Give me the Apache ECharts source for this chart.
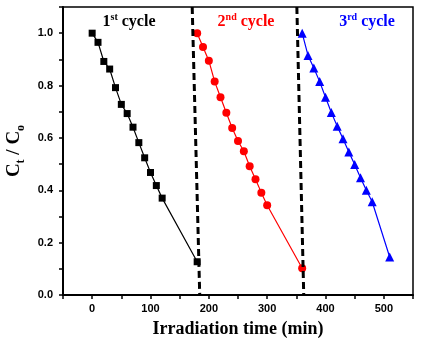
<!DOCTYPE html>
<html>
<head>
<meta charset="utf-8">
<script src="https://cdn.jsdelivr.net/npm/echarts@6/dist/echarts.min.js"></script>
<style>
  html, body { margin: 0; padding: 0; background: #fff; }
  #chart { width: 430px; height: 344px; }
</style>
</head>
<body>
<div id="chart"></div>
<script>
// Irradiation time (min) and normalized concentration Ct/C0 for three cycles
const time1 = [0, 10, 20, 30, 40, 50, 60, 70, 80, 90, 100, 110, 120, 180];
const ratio1 = [1.0, 0.965, 0.892, 0.863, 0.792, 0.728, 0.693, 0.641, 0.582, 0.524, 0.468, 0.418, 0.370, 0.127];

const time2 = [180, 190, 200, 210, 220, 230, 240, 250, 260, 270, 280, 290, 300, 360];
const ratio2 = [1.0, 0.947, 0.895, 0.815, 0.755, 0.696, 0.638, 0.588, 0.549, 0.492, 0.442, 0.391, 0.343, 0.102];

const time3 = [360, 370, 380, 390, 400, 410, 420, 430, 440, 450, 460, 470, 480, 510];
const ratio3 = [1.0, 0.915, 0.867, 0.815, 0.755, 0.697, 0.645, 0.597, 0.546, 0.498, 0.448, 0.400, 0.356, 0.145];

// Dashed separators between cycles (time at top edge, time at bottom edge)
const divider1 = [[171.5, 1.1], [184.4, 0]];
const divider2 = [[350.9, 1.1], [362.7, 0]];

const cycleLabels = [
  { num: '1', sup: 'st', color: '#000000', at: [129, 21] },
  { num: '2', sup: 'nd', color: '#ff0000', at: [246, 21] },
  { num: '3', sup: 'rd', color: '#0000ff', at: [367, 21] }
];

const pairs = (xs, ys) => xs.map((x, i) => [x, ys[i]]);

const serif = '"Liberation Serif", "Times New Roman", serif';
const sans = '"Liberation Sans", Arial, sans-serif';

const chart = echarts.init(document.getElementById('chart'), null, { renderer: 'canvas' });

function curve(name, data, color, symbol, size) {
  return {
    name, type: 'line', data, symbol, symbolSize: size,
    lineStyle: { color, width: 1.2 },
    itemStyle: { color },
    animation: false, z: 3
  };
}

function divider(data) {
  return {
    type: 'line', data, symbol: 'none', silent: true,
    lineStyle: { color: '#000', width: 3, type: [7, 4] },
    animation: false, z: 4
  };
}

chart.setOption({
  backgroundColor: '#fff',
  grid: {
    left: 63, right: 17, top: 7, bottom: 49,
    containLabel: false, outerBoundsMode: 'none',
    show: true, borderColor: '#000', borderWidth: 1.5, backgroundColor: 'transparent'
  },
  xAxis: {
    type: 'value', min: -50, max: 550, interval: 50,
    name: 'Irradiation time (min)', nameLocation: 'middle', nameGap: 25,
    nameTextStyle: { fontFamily: serif, fontWeight: 'bold', fontSize: 18, color: '#000' },
    axisLine: { show: true, onZero: false, lineStyle: { color: '#000', width: 2 } },
    axisTick: { show: true, inside: false, length: 4, lineStyle: { color: '#000', width: 1.5 } },
    splitLine: { show: false },
    axisLabel: {
      margin: 8, fontFamily: sans, fontWeight: 'bold', fontSize: 11, color: '#000',
      formatter: v => (v % 100 === 0 ? String(v) : '')
    }
  },
  yAxis: {
    type: 'value', min: 0, max: 1.1, interval: 0.1,
    name: '{m|C}{s|t}{m| / C}{s|o}', nameLocation: 'middle', nameGap: 37,
    nameTextStyle: {
      color: '#000',
      rich: {
        m: { fontFamily: serif, fontWeight: 'bold', fontSize: 19, lineHeight: 22, verticalAlign: 'bottom' },
        s: { fontFamily: serif, fontWeight: 'bold', fontSize: 12, lineHeight: 22, verticalAlign: 'bottom', padding: [0, 0, -3, 0] }
      }
    },
    axisLine: { show: true, onZero: false, lineStyle: { color: '#000', width: 2 } },
    axisTick: { show: true, inside: false, length: 4, lineStyle: { color: '#000', width: 1.5 } },
    splitLine: { show: false },
    axisLabel: {
      margin: 10, fontFamily: sans, fontWeight: 'bold', fontSize: 11, color: '#000',
      formatter: v => (Math.round(v * 10) % 2 === 0 && v < 1.05 ? v.toFixed(1) : '')
    }
  },
  graphic: cycleLabels.map(c => ({
    type: 'text', x: c.at[0], y: c.at[1], z: 10,
    style: {
      text: '{n|' + c.num + '}{u|' + c.sup + '}{n| cycle}',
      align: 'center', verticalAlign: 'middle',
      rich: {
        n: { fontFamily: serif, fontWeight: 'bold', fontSize: 16, lineHeight: 18, fill: c.color, verticalAlign: 'bottom' },
        u: { fontFamily: serif, fontWeight: 'bold', fontSize: 10, lineHeight: 18, fill: c.color, verticalAlign: 'top' }
      }
    }
  })),
  series: [
    divider(divider1),
    divider(divider2),
    curve('1st cycle', pairs(time1, ratio1), '#000000', 'rect', 7),
    curve('2nd cycle', pairs(time2, ratio2), '#ff0000', 'circle', 8),
    curve('3rd cycle', pairs(time3, ratio3), '#0000ff', 'triangle', 9)
  ]
});
</script>
</body>
</html>
